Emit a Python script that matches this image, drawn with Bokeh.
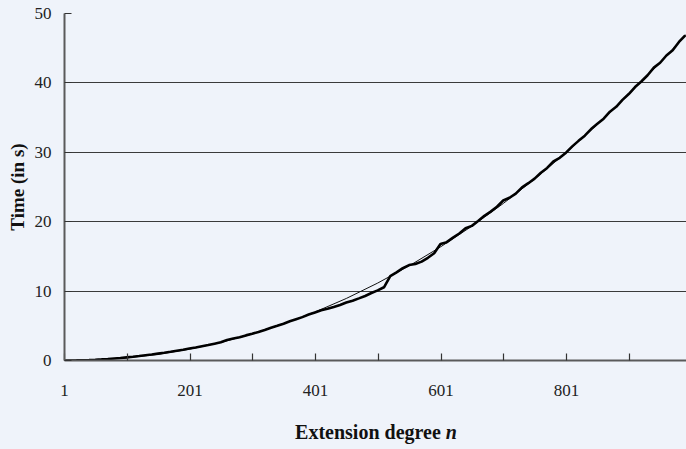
from bokeh.plotting import figure
from bokeh.models import Range1d, FixedTicker, Div
from bokeh.layouts import column
from bokeh.embed import file_html
from bokeh.resources import INLINE

# Fitted trend (thin line)
fit_n = [1, 50, 100, 150, 200, 250, 300, 350, 400, 450, 500, 550, 600, 650, 700,
         750, 800, 850, 900, 950, 1000]
fit_t = [0.0, 0.09, 0.38, 0.89, 1.63, 2.60, 3.82, 5.28, 6.98, 8.94, 11.16, 13.63,
         16.36, 19.35, 22.62, 26.14, 29.93, 34.00, 38.33, 42.92, 47.80]

# Measured timings (thick line)
meas_n = [1] + list(range(10, 1000, 10))
meas_t = [0.00, 0.01, 0.02, 0.04, 0.07, 0.11, 0.16, 0.22, 0.29, 0.36,
          0.45, 0.54, 0.64, 0.75, 0.86, 0.99, 1.12, 1.26, 1.41, 1.56,
          1.72, 1.88, 2.05, 2.22, 2.42, 2.62, 2.95, 3.18, 3.36, 3.62,
          3.85, 4.12, 4.40, 4.72, 5.00, 5.30, 5.65, 5.95, 6.25, 6.62,
          6.93, 7.25, 7.45, 7.72, 8.00, 8.35, 8.62, 8.95, 9.30, 9.72,
          10.10, 10.55, 12.15, 12.70, 13.30, 13.75, 13.90, 14.25, 14.80, 15.45,
          16.80, 17.05, 17.70, 18.30, 19.05, 19.40, 20.10, 20.85, 21.45, 22.15,
          23.05, 23.45, 24.05, 24.95, 25.55, 26.20, 27.05, 27.75, 28.70, 29.20,
          29.95, 30.85, 31.65, 32.40, 33.35, 34.10, 34.85, 35.85, 36.55, 37.55,
          38.40, 39.40, 40.20, 41.10, 42.20, 42.90, 43.95, 44.70, 45.90, 46.85]

x_ticks = [1, 101, 201, 301, 401, 501, 601, 701, 801, 901]
x_labels = {1: "1", 101: "", 201: "201", 301: "", 401: "401", 501: "",
            601: "601", 701: "", 801: "801", 901: ""}
y_ticks = [0, 10, 20, 30, 40, 50]

BG = "#eff3fa"
FONT = "Liberation Serif"

p = figure(width=686, height=410, output_backend="svg", toolbar_location=None,
           x_range=Range1d(1, 992), y_range=Range1d(0, 50),
           min_border_left=64, min_border_right=0, min_border_top=13,
           min_border_bottom=50)
p.background_fill_color = BG
p.border_fill_color = BG
p.outline_line_color = None

p.line(fit_n, fit_t, line_color="#111111", line_width=1)
p.line(meas_n, meas_t, line_color="#000000", line_width=2.6)

p.xgrid.visible = False
p.ygrid.ticker = FixedTicker(ticks=y_ticks)
p.ygrid.grid_line_color = "#3a3a3a"
p.ygrid.grid_line_width = 1

p.xaxis.ticker = FixedTicker(ticks=x_ticks)
p.xaxis.major_label_overrides = x_labels
p.yaxis.ticker = FixedTicker(ticks=y_ticks)
p.xaxis.minor_tick_line_color = None
p.yaxis.minor_tick_line_color = None

for ax in (p.xaxis, p.yaxis):
    ax.axis_line_color = "#5a5a5a"
    ax.axis_line_width = 2
    ax.major_tick_line_color = "#333333"
    ax.major_tick_line_width = 1.2
    ax.major_tick_in = 7
    ax.major_tick_out = 0
    ax.major_label_text_font = FONT
    ax.major_label_text_font_size = "17px"
    ax.major_label_text_color = "#222222"

p.xaxis.major_label_standoff = 24
p.yaxis.major_label_standoff = 13

p.yaxis.axis_label = "Time (in s)"
p.yaxis.axis_label_text_font = FONT
p.yaxis.axis_label_text_font_style = "bold"
p.yaxis.axis_label_text_font_size = "19px"
p.yaxis.axis_label_text_color = "#111111"
p.yaxis.axis_label_standoff = 4

xlabel = Div(
    text=('<div style="width:686px;height:39px;box-sizing:border-box;'
          'padding-left:66px;text-align:center;line-height:44px;'
          'font-family:\'Liberation Serif\';font-weight:bold;font-size:20px;'
          'color:#111111;">Extension degree <i>n</i></div>'),
    width=686, height=39,
    styles={"background-color": BG, "margin": "0", "padding": "0"})

layout = column(p, xlabel, spacing=0, styles={"background-color": BG})

open("out.html", "w").write(file_html(layout, INLINE))
